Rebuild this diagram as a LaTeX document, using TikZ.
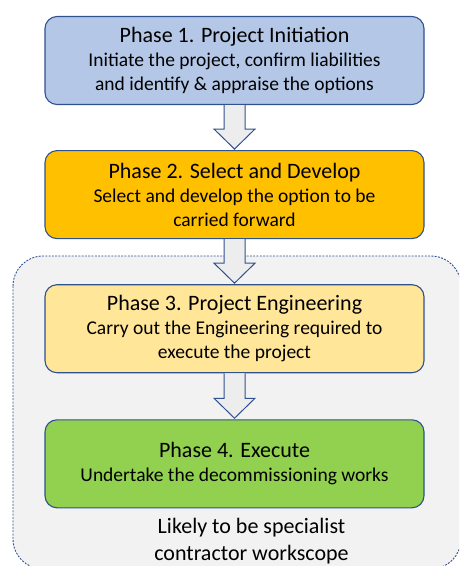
\documentclass[tikz,border=0pt]{standalone}
\usepackage{fontspec}
\setmainfont{Carlito}
\usepackage{tikz}
\usetikzlibrary{positioning,calc}
\definecolor{phaseedge}{HTML}{2F528F}
\definecolor{phaseblue}{HTML}{B4C7E7}
\definecolor{phaseamber}{HTML}{FFC000}
\definecolor{phasecream}{HTML}{FFE699}
\definecolor{phasegreen}{HTML}{92D050}
\definecolor{scopegray}{HTML}{F2F2F2}
\definecolor{flowgray}{HTML}{EDEDED}

\tikzset{
  phasebox/.style={draw=phaseedge,line width=1.1pt,rounded corners=12pt,
    minimum width=379pt,minimum height=88pt,align=center,text=black,
    font=\fontsize{19.5}{24}\selectfont},
  flowarrow/.style={draw=phaseedge,fill=flowgray,line width=1pt,line join=miter}
}
\newcommand{\phasetitle}[1]{{\fontsize{22}{24}\selectfont #1}}

\begin{document}
\begin{tikzpicture}[x=1pt,y=-1pt]
        \useasboundingbox (0,0) rectangle (459,566);
        \clip (0,0) rectangle (459,566);
        % contractor workscope area
        \draw[draw=phaseedge,fill=scopegray,line width=0.9pt,dash pattern=on 2pt off 1.3pt,
          rounded corners=30pt] (13,256) rectangle (461,569);
        \node[phasebox,fill=phaseblue] (p1) at (234.5,60.5)
          {\phasetitle{Phase 1. Project Initiation}\\Initiate the project, confirm liabilities\\and identify \& appraise the options};
        \node[phasebox,fill=phaseamber,below=45pt of p1] (p2)
          {\phasetitle{Phase 2. Select and Develop}\\Select and develop the option to be\\carried forward};
        \node[phasebox,fill=phasecream,below=45pt of p2] (p3)
          {\phasetitle{Phase 3. Project Engineering}\\Carry out the Engineering required to\\execute the project};
        \node[phasebox,fill=phasegreen,below=46pt of p3] (p4)
          {\phasetitle{Phase 4. Execute}\\Undertake the decommissioning works};
        \node[align=center,font=\fontsize{22}{27}\selectfont,text=black,
          below=6pt of p4.south,xshift=17pt] (scope) {Likely to be specialist\\contractor workscope};
        % block arrows between the phases
        \foreach \a/\b in {p1/p2,p2/p3,p3/p4}
          \draw[flowarrow] ($(\a.south)+(-10.5,0)$) -- ($(\b.north)+(-10.5,-21)$) -- ++(-10,0)
            -- ($(\b.north)+(0,-1)$) -- ($(\b.north)+(20.5,-21)$) -- ++(-10,0) -- ($(\a.south)+(10.5,0)$);
      \end{tikzpicture}
\end{document}
